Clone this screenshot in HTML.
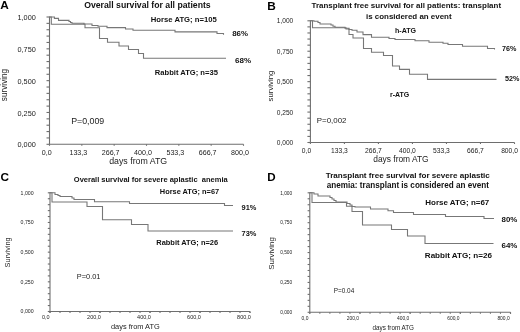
<!DOCTYPE html>
<html><head><meta charset="utf-8"><title>Survival curves</title>
<style>
html,body{margin:0;padding:0;background:#fff;}
body{width:520px;height:332px;overflow:hidden;}
svg{display:block;filter:blur(0.4px);font-family:"Liberation Sans",sans-serif;}
</style></head><body>
<svg width="520" height="332" viewBox="0 0 520 332">
<rect width="520" height="332" fill="#fff"/>
<line x1="49.5" y1="16.5" x2="49.5" y2="144.3" stroke="#6e6e6e" stroke-width="1.1"/>
<line x1="49.5" y1="144.3" x2="243.5" y2="144.3" stroke="#6e6e6e" stroke-width="1.1"/>
<line x1="46.5" y1="144.3" x2="49.5" y2="144.3" stroke="#6e6e6e" stroke-width="1.1"/>
<line x1="46.5" y1="137.94" x2="49.5" y2="137.94" stroke="#6e6e6e" stroke-width="1.1"/>
<line x1="46.5" y1="131.57" x2="49.5" y2="131.57" stroke="#6e6e6e" stroke-width="1.1"/>
<line x1="46.5" y1="125.21" x2="49.5" y2="125.21" stroke="#6e6e6e" stroke-width="1.1"/>
<line x1="46.5" y1="118.84" x2="49.5" y2="118.84" stroke="#6e6e6e" stroke-width="1.1"/>
<line x1="46.5" y1="112.48" x2="49.5" y2="112.48" stroke="#6e6e6e" stroke-width="1.1"/>
<line x1="46.5" y1="106.11" x2="49.5" y2="106.11" stroke="#6e6e6e" stroke-width="1.1"/>
<line x1="46.5" y1="99.75" x2="49.5" y2="99.75" stroke="#6e6e6e" stroke-width="1.1"/>
<line x1="46.5" y1="93.38" x2="49.5" y2="93.38" stroke="#6e6e6e" stroke-width="1.1"/>
<line x1="46.5" y1="87.02" x2="49.5" y2="87.02" stroke="#6e6e6e" stroke-width="1.1"/>
<line x1="46.5" y1="80.65" x2="49.5" y2="80.65" stroke="#6e6e6e" stroke-width="1.1"/>
<line x1="46.5" y1="74.28" x2="49.5" y2="74.28" stroke="#6e6e6e" stroke-width="1.1"/>
<line x1="46.5" y1="67.92" x2="49.5" y2="67.92" stroke="#6e6e6e" stroke-width="1.1"/>
<line x1="46.5" y1="61.56" x2="49.5" y2="61.56" stroke="#6e6e6e" stroke-width="1.1"/>
<line x1="46.5" y1="55.19" x2="49.5" y2="55.19" stroke="#6e6e6e" stroke-width="1.1"/>
<line x1="46.5" y1="48.83" x2="49.5" y2="48.83" stroke="#6e6e6e" stroke-width="1.1"/>
<line x1="46.5" y1="42.46" x2="49.5" y2="42.46" stroke="#6e6e6e" stroke-width="1.1"/>
<line x1="46.5" y1="36.09" x2="49.5" y2="36.09" stroke="#6e6e6e" stroke-width="1.1"/>
<line x1="46.5" y1="29.73" x2="49.5" y2="29.73" stroke="#6e6e6e" stroke-width="1.1"/>
<line x1="46.5" y1="23.36" x2="49.5" y2="23.36" stroke="#6e6e6e" stroke-width="1.1"/>
<line x1="46.5" y1="17.0" x2="49.5" y2="17.0" stroke="#6e6e6e" stroke-width="1.1"/>
<text x="35.8" y="147.4" font-size="7.3" font-weight="normal" text-anchor="end" fill="#222" >0,000</text>
<text x="35.8" y="115.58" font-size="7.3" font-weight="normal" text-anchor="end" fill="#222" >0,250</text>
<text x="35.8" y="83.75" font-size="7.3" font-weight="normal" text-anchor="end" fill="#222" >0,500</text>
<text x="35.8" y="51.93" font-size="7.3" font-weight="normal" text-anchor="end" fill="#222" >0,750</text>
<text x="35.8" y="20.1" font-size="7.3" font-weight="normal" text-anchor="end" fill="#222" >1,000</text>
<line x1="49.5" y1="144.3" x2="49.5" y2="145.8" stroke="#6e6e6e" stroke-width="1.1"/>
<line x1="81.83" y1="144.3" x2="81.83" y2="145.8" stroke="#6e6e6e" stroke-width="1.1"/>
<line x1="114.17" y1="144.3" x2="114.17" y2="145.8" stroke="#6e6e6e" stroke-width="1.1"/>
<line x1="146.5" y1="144.3" x2="146.5" y2="145.8" stroke="#6e6e6e" stroke-width="1.1"/>
<line x1="178.83" y1="144.3" x2="178.83" y2="145.8" stroke="#6e6e6e" stroke-width="1.1"/>
<line x1="211.17" y1="144.3" x2="211.17" y2="145.8" stroke="#6e6e6e" stroke-width="1.1"/>
<line x1="243.5" y1="144.3" x2="243.5" y2="145.8" stroke="#6e6e6e" stroke-width="1.1"/>
<text x="46.75" y="155.4" font-size="7.1" font-weight="normal" text-anchor="middle" fill="#222" >0,0</text>
<text x="78.33" y="155.4" font-size="7.1" font-weight="normal" text-anchor="middle" fill="#222" >133,3</text>
<text x="110.67" y="155.4" font-size="7.1" font-weight="normal" text-anchor="middle" fill="#222" >266,7</text>
<text x="143.0" y="155.4" font-size="7.1" font-weight="normal" text-anchor="middle" fill="#222" >400,0</text>
<text x="175.33" y="155.4" font-size="7.1" font-weight="normal" text-anchor="middle" fill="#222" >533,3</text>
<text x="207.67" y="155.4" font-size="7.1" font-weight="normal" text-anchor="middle" fill="#222" >666,7</text>
<text x="240.0" y="155.4" font-size="7.1" font-weight="normal" text-anchor="middle" fill="#222" >800,0</text>
<text x="0.3" y="9.4" font-size="11.8" font-weight="bold" text-anchor="start" fill="#000" >A</text>
<text x="84.2" y="8" font-size="8.7" font-weight="bold" text-anchor="start" fill="#111" >Overall survival for all patients</text>
<text x="150.8" y="22.3" font-size="7.7" font-weight="bold" text-anchor="start" fill="#111" >Horse ATG; n=105</text>
<text x="232.2" y="36.4" font-size="7.9" font-weight="bold" text-anchor="start" fill="#111" >86%</text>
<text x="154.8" y="74.8" font-size="7.6" font-weight="bold" text-anchor="start" fill="#111" >Rabbit ATG; n=35</text>
<text x="235.0" y="62.9" font-size="8.0" font-weight="bold" text-anchor="start" fill="#111" >68%</text>
<text x="71.2" y="124.3" font-size="8.8" font-weight="normal" text-anchor="start" fill="#222" >P=0,009</text>
<text x="109.2" y="164.3" font-size="8.8" font-weight="normal" text-anchor="start" fill="#222" >days from ATG</text>
<text transform="translate(7.2,85) rotate(-90)" font-size="8.2" text-anchor="middle" fill="#222">surviving</text>
<path d="M49.5,17 H54.4 V18.4 H58.5 V20.4 H69 V21.5 H70.5 V22.5 H72 V23.2 H84 V24 H92 V25.5 H98 V26.2 H107 V27.6 H125.5 V29 H133 V30.3 H175 V31.9 H217 V33.5 H223.5 V34.8" fill="none" stroke="#777" stroke-width="1.1"/>
<path d="M49.5,17 H51.3 V24.3 H85 V27.8 H99.5 V38.5 H107.5 V42.3 H119 V46 H128.5 V49.5 H138.5 V53.5 H143.5 V58.3 H226" fill="none" stroke="#777" stroke-width="1.1"/>
<line x1="310.4" y1="20.3" x2="310.4" y2="142.5" stroke="#6e6e6e" stroke-width="1.1"/>
<line x1="310.4" y1="142.5" x2="514.5" y2="142.5" stroke="#6e6e6e" stroke-width="1.1"/>
<line x1="307.4" y1="142.5" x2="310.4" y2="142.5" stroke="#6e6e6e" stroke-width="1.1"/>
<line x1="307.4" y1="136.41" x2="310.4" y2="136.41" stroke="#6e6e6e" stroke-width="1.1"/>
<line x1="307.4" y1="130.33" x2="310.4" y2="130.33" stroke="#6e6e6e" stroke-width="1.1"/>
<line x1="307.4" y1="124.25" x2="310.4" y2="124.25" stroke="#6e6e6e" stroke-width="1.1"/>
<line x1="307.4" y1="118.16" x2="310.4" y2="118.16" stroke="#6e6e6e" stroke-width="1.1"/>
<line x1="307.4" y1="112.08" x2="310.4" y2="112.08" stroke="#6e6e6e" stroke-width="1.1"/>
<line x1="307.4" y1="105.99" x2="310.4" y2="105.99" stroke="#6e6e6e" stroke-width="1.1"/>
<line x1="307.4" y1="99.91" x2="310.4" y2="99.91" stroke="#6e6e6e" stroke-width="1.1"/>
<line x1="307.4" y1="93.82" x2="310.4" y2="93.82" stroke="#6e6e6e" stroke-width="1.1"/>
<line x1="307.4" y1="87.73" x2="310.4" y2="87.73" stroke="#6e6e6e" stroke-width="1.1"/>
<line x1="307.4" y1="81.65" x2="310.4" y2="81.65" stroke="#6e6e6e" stroke-width="1.1"/>
<line x1="307.4" y1="75.56" x2="310.4" y2="75.56" stroke="#6e6e6e" stroke-width="1.1"/>
<line x1="307.4" y1="69.48" x2="310.4" y2="69.48" stroke="#6e6e6e" stroke-width="1.1"/>
<line x1="307.4" y1="63.39" x2="310.4" y2="63.39" stroke="#6e6e6e" stroke-width="1.1"/>
<line x1="307.4" y1="57.31" x2="310.4" y2="57.31" stroke="#6e6e6e" stroke-width="1.1"/>
<line x1="307.4" y1="51.22" x2="310.4" y2="51.22" stroke="#6e6e6e" stroke-width="1.1"/>
<line x1="307.4" y1="45.14" x2="310.4" y2="45.14" stroke="#6e6e6e" stroke-width="1.1"/>
<line x1="307.4" y1="39.05" x2="310.4" y2="39.05" stroke="#6e6e6e" stroke-width="1.1"/>
<line x1="307.4" y1="32.97" x2="310.4" y2="32.97" stroke="#6e6e6e" stroke-width="1.1"/>
<line x1="307.4" y1="26.88" x2="310.4" y2="26.88" stroke="#6e6e6e" stroke-width="1.1"/>
<line x1="307.4" y1="20.8" x2="310.4" y2="20.8" stroke="#6e6e6e" stroke-width="1.1"/>
<text x="293.3" y="145.0" font-size="6.6" font-weight="normal" text-anchor="end" fill="#222" >0,000</text>
<text x="293.3" y="114.58" font-size="6.6" font-weight="normal" text-anchor="end" fill="#222" >0,250</text>
<text x="293.3" y="84.15" font-size="6.6" font-weight="normal" text-anchor="end" fill="#222" >0,500</text>
<text x="293.3" y="53.72" font-size="6.6" font-weight="normal" text-anchor="end" fill="#222" >0,750</text>
<text x="293.3" y="23.3" font-size="6.6" font-weight="normal" text-anchor="end" fill="#222" >1,000</text>
<line x1="310.4" y1="142.5" x2="310.4" y2="144.0" stroke="#6e6e6e" stroke-width="1.1"/>
<line x1="344.42" y1="142.5" x2="344.42" y2="144.0" stroke="#6e6e6e" stroke-width="1.1"/>
<line x1="378.43" y1="142.5" x2="378.43" y2="144.0" stroke="#6e6e6e" stroke-width="1.1"/>
<line x1="412.45" y1="142.5" x2="412.45" y2="144.0" stroke="#6e6e6e" stroke-width="1.1"/>
<line x1="446.47" y1="142.5" x2="446.47" y2="144.0" stroke="#6e6e6e" stroke-width="1.1"/>
<line x1="480.48" y1="142.5" x2="480.48" y2="144.0" stroke="#6e6e6e" stroke-width="1.1"/>
<line x1="514.5" y1="142.5" x2="514.5" y2="144.0" stroke="#6e6e6e" stroke-width="1.1"/>
<text x="306.5" y="153.1" font-size="6.7" font-weight="normal" text-anchor="middle" fill="#222" >0,0</text>
<text x="339.42" y="153.1" font-size="6.7" font-weight="normal" text-anchor="middle" fill="#222" >133,3</text>
<text x="373.43" y="153.1" font-size="6.7" font-weight="normal" text-anchor="middle" fill="#222" >266,7</text>
<text x="407.45" y="153.1" font-size="6.7" font-weight="normal" text-anchor="middle" fill="#222" >400,0</text>
<text x="441.47" y="153.1" font-size="6.7" font-weight="normal" text-anchor="middle" fill="#222" >533,3</text>
<text x="475.48" y="153.1" font-size="6.7" font-weight="normal" text-anchor="middle" fill="#222" >666,7</text>
<text x="509.5" y="153.1" font-size="6.7" font-weight="normal" text-anchor="middle" fill="#222" >800,0</text>
<text x="267.3" y="9.5" font-size="11.8" font-weight="bold" text-anchor="start" fill="#000" >B</text>
<text x="406.3" y="7.8" font-size="7.97" font-weight="bold" text-anchor="middle" fill="#111" >Transplant free survival for all patients: transplant</text>
<text x="408.8" y="18.5" font-size="7.95" font-weight="bold" text-anchor="middle" fill="#111" >is considered an event</text>
<text x="395" y="32.5" font-size="7.1" font-weight="bold" text-anchor="start" fill="#111" >h-ATG</text>
<text x="390" y="96.8" font-size="7.0" font-weight="bold" text-anchor="start" fill="#111" >r-ATG</text>
<text x="502" y="51.3" font-size="7.2" font-weight="bold" text-anchor="start" fill="#111" >76%</text>
<text x="505" y="81" font-size="7.2" font-weight="bold" text-anchor="start" fill="#111" >52%</text>
<text x="316.8" y="123.3" font-size="7.9" font-weight="normal" text-anchor="start" fill="#222" >P=0,002</text>
<text x="373.3" y="162" font-size="8.4" font-weight="normal" text-anchor="start" fill="#222" >days from ATG</text>
<text transform="translate(273.2,86) rotate(-90)" font-size="7.8" text-anchor="middle" fill="#222">surviving</text>
<path d="M310.4,20.8 H314 V21.3 H318 V22.5 H320 V24 H331 V25 H333 V26.2 H335 V27.2 H345 V28.3 H349 V29.5 H352 V30.2 H357 V32 H363 V34.6 H371.5 V37.3 H389 V38.5 H395 V39.5 H415 V40.8 H429 V42.2 H443 V43.3 H448 V44.5 H462.5 V46.2 H487.5 V48.5 H494.5 V49.5" fill="none" stroke="#777" stroke-width="1.1"/>
<path d="M310.4,20.8 H312.5 V27.8 H346 V29 H349 V34.5 H353 V38 H363.5 V48.5 H371.5 V52.2 H383.5 V55.5 H392.5 V66 H399.5 V69.4 H409.5 V74.2 H427.5 V79.4 H496.5" fill="none" stroke="#777" stroke-width="1.1"/>
<line x1="50" y1="192.3" x2="50" y2="311.5" stroke="#6e6e6e" stroke-width="1.1"/>
<line x1="50" y1="311.5" x2="250" y2="311.5" stroke="#6e6e6e" stroke-width="1.1"/>
<line x1="47.8" y1="311.5" x2="50" y2="311.5" stroke="#6e6e6e" stroke-width="1.1"/>
<line x1="47.8" y1="305.56" x2="50" y2="305.56" stroke="#6e6e6e" stroke-width="1.1"/>
<line x1="47.8" y1="299.63" x2="50" y2="299.63" stroke="#6e6e6e" stroke-width="1.1"/>
<line x1="47.8" y1="293.69" x2="50" y2="293.69" stroke="#6e6e6e" stroke-width="1.1"/>
<line x1="47.8" y1="287.76" x2="50" y2="287.76" stroke="#6e6e6e" stroke-width="1.1"/>
<line x1="47.8" y1="281.82" x2="50" y2="281.82" stroke="#6e6e6e" stroke-width="1.1"/>
<line x1="47.8" y1="275.89" x2="50" y2="275.89" stroke="#6e6e6e" stroke-width="1.1"/>
<line x1="47.8" y1="269.95" x2="50" y2="269.95" stroke="#6e6e6e" stroke-width="1.1"/>
<line x1="47.8" y1="264.02" x2="50" y2="264.02" stroke="#6e6e6e" stroke-width="1.1"/>
<line x1="47.8" y1="258.08" x2="50" y2="258.08" stroke="#6e6e6e" stroke-width="1.1"/>
<line x1="47.8" y1="252.15" x2="50" y2="252.15" stroke="#6e6e6e" stroke-width="1.1"/>
<line x1="47.8" y1="246.22" x2="50" y2="246.22" stroke="#6e6e6e" stroke-width="1.1"/>
<line x1="47.8" y1="240.28" x2="50" y2="240.28" stroke="#6e6e6e" stroke-width="1.1"/>
<line x1="47.8" y1="234.34" x2="50" y2="234.34" stroke="#6e6e6e" stroke-width="1.1"/>
<line x1="47.8" y1="228.41" x2="50" y2="228.41" stroke="#6e6e6e" stroke-width="1.1"/>
<line x1="47.8" y1="222.48" x2="50" y2="222.48" stroke="#6e6e6e" stroke-width="1.1"/>
<line x1="47.8" y1="216.54" x2="50" y2="216.54" stroke="#6e6e6e" stroke-width="1.1"/>
<line x1="47.8" y1="210.61" x2="50" y2="210.61" stroke="#6e6e6e" stroke-width="1.1"/>
<line x1="47.8" y1="204.67" x2="50" y2="204.67" stroke="#6e6e6e" stroke-width="1.1"/>
<line x1="47.8" y1="198.74" x2="50" y2="198.74" stroke="#6e6e6e" stroke-width="1.1"/>
<line x1="47.8" y1="192.8" x2="50" y2="192.8" stroke="#6e6e6e" stroke-width="1.1"/>
<text x="33.6" y="313.4" font-size="5.2" font-weight="normal" text-anchor="end" fill="#222" >0,000</text>
<text x="33.6" y="283.72" font-size="5.2" font-weight="normal" text-anchor="end" fill="#222" >0,250</text>
<text x="33.6" y="254.05" font-size="5.2" font-weight="normal" text-anchor="end" fill="#222" >0,500</text>
<text x="33.6" y="224.38" font-size="5.2" font-weight="normal" text-anchor="end" fill="#222" >0,750</text>
<text x="33.6" y="194.7" font-size="5.2" font-weight="normal" text-anchor="end" fill="#222" >1,000</text>
<line x1="50.0" y1="311.5" x2="50.0" y2="313.0" stroke="#6e6e6e" stroke-width="1.1"/>
<line x1="100.0" y1="311.5" x2="100.0" y2="313.0" stroke="#6e6e6e" stroke-width="1.1"/>
<line x1="150.0" y1="311.5" x2="150.0" y2="313.0" stroke="#6e6e6e" stroke-width="1.1"/>
<line x1="200.0" y1="311.5" x2="200.0" y2="313.0" stroke="#6e6e6e" stroke-width="1.1"/>
<line x1="250.0" y1="311.5" x2="250.0" y2="313.0" stroke="#6e6e6e" stroke-width="1.1"/>
<line x1="50.0" y1="311.5" x2="50.0" y2="313.0" stroke="#6e6e6e" stroke-width="1.1"/>
<line x1="60.0" y1="311.5" x2="60.0" y2="313.0" stroke="#6e6e6e" stroke-width="1.1"/>
<line x1="70.0" y1="311.5" x2="70.0" y2="313.0" stroke="#6e6e6e" stroke-width="1.1"/>
<line x1="80.0" y1="311.5" x2="80.0" y2="313.0" stroke="#6e6e6e" stroke-width="1.1"/>
<line x1="90.0" y1="311.5" x2="90.0" y2="313.0" stroke="#6e6e6e" stroke-width="1.1"/>
<line x1="100.0" y1="311.5" x2="100.0" y2="313.0" stroke="#6e6e6e" stroke-width="1.1"/>
<line x1="110.0" y1="311.5" x2="110.0" y2="313.0" stroke="#6e6e6e" stroke-width="1.1"/>
<line x1="120.0" y1="311.5" x2="120.0" y2="313.0" stroke="#6e6e6e" stroke-width="1.1"/>
<line x1="130.0" y1="311.5" x2="130.0" y2="313.0" stroke="#6e6e6e" stroke-width="1.1"/>
<line x1="140.0" y1="311.5" x2="140.0" y2="313.0" stroke="#6e6e6e" stroke-width="1.1"/>
<line x1="150.0" y1="311.5" x2="150.0" y2="313.0" stroke="#6e6e6e" stroke-width="1.1"/>
<line x1="160.0" y1="311.5" x2="160.0" y2="313.0" stroke="#6e6e6e" stroke-width="1.1"/>
<line x1="170.0" y1="311.5" x2="170.0" y2="313.0" stroke="#6e6e6e" stroke-width="1.1"/>
<line x1="180.0" y1="311.5" x2="180.0" y2="313.0" stroke="#6e6e6e" stroke-width="1.1"/>
<line x1="190.0" y1="311.5" x2="190.0" y2="313.0" stroke="#6e6e6e" stroke-width="1.1"/>
<line x1="200.0" y1="311.5" x2="200.0" y2="313.0" stroke="#6e6e6e" stroke-width="1.1"/>
<line x1="210.0" y1="311.5" x2="210.0" y2="313.0" stroke="#6e6e6e" stroke-width="1.1"/>
<line x1="220.0" y1="311.5" x2="220.0" y2="313.0" stroke="#6e6e6e" stroke-width="1.1"/>
<line x1="230.0" y1="311.5" x2="230.0" y2="313.0" stroke="#6e6e6e" stroke-width="1.1"/>
<line x1="240.0" y1="311.5" x2="240.0" y2="313.0" stroke="#6e6e6e" stroke-width="1.1"/>
<line x1="250.0" y1="311.5" x2="250.0" y2="313.0" stroke="#6e6e6e" stroke-width="1.1"/>
<text x="45.75" y="319.3" font-size="5.5" font-weight="normal" text-anchor="middle" fill="#222" >0,0</text>
<text x="94.0" y="319.3" font-size="5.5" font-weight="normal" text-anchor="middle" fill="#222" >200,0</text>
<text x="144.0" y="319.3" font-size="5.5" font-weight="normal" text-anchor="middle" fill="#222" >400,0</text>
<text x="194.0" y="319.3" font-size="5.5" font-weight="normal" text-anchor="middle" fill="#222" >600,0</text>
<text x="244.0" y="319.3" font-size="5.5" font-weight="normal" text-anchor="middle" fill="#222" >800,0</text>
<text x="0.5" y="181.0" font-size="11.8" font-weight="bold" text-anchor="start" fill="#000" >C</text>
<text x="73.8" y="182.3" font-size="7.5" font-weight="bold" text-anchor="start" fill="#111" >Overall survival for severe aplastic  anemia</text>
<text x="159.8" y="193.5" font-size="7.4" font-weight="bold" text-anchor="start" fill="#111" >Horse ATG; n=67</text>
<text x="241.6" y="209.6" font-size="7.4" font-weight="bold" text-anchor="start" fill="#111" >91%</text>
<text x="156.3" y="245" font-size="7.45" font-weight="bold" text-anchor="start" fill="#111" >Rabbit ATG; n=26</text>
<text x="241.6" y="236.4" font-size="7.4" font-weight="bold" text-anchor="start" fill="#111" >73%</text>
<text x="76.8" y="278.8" font-size="7.4" font-weight="normal" text-anchor="start" fill="#222" >P=0.01</text>
<text x="111" y="329" font-size="7.4" font-weight="normal" text-anchor="start" fill="#222" >days from ATG</text>
<text transform="translate(10.1,252.4) rotate(-90)" font-size="7.3" text-anchor="middle" fill="#222">Surviving</text>
<path d="M50,192.8 H55 V194.5 H58 V195.5 H60 V196.5 H72 V198 H74 V199.5 H94.5 V201.8 H129.5 V203.5 H224.5 V205.5 H233" fill="none" stroke="#777" stroke-width="1.1"/>
<path d="M50,192.8 H52 V202 H87 V206.5 H102.5 V219.8 H131.5 V224.5 H148 V231 H233" fill="none" stroke="#777" stroke-width="1.1"/>
<line x1="309.8" y1="192.3" x2="309.8" y2="312.3" stroke="#6e6e6e" stroke-width="1.1"/>
<line x1="309.8" y1="312.3" x2="510.5" y2="312.3" stroke="#6e6e6e" stroke-width="1.1"/>
<line x1="307.6" y1="312.3" x2="309.8" y2="312.3" stroke="#6e6e6e" stroke-width="1.1"/>
<line x1="307.6" y1="306.32" x2="309.8" y2="306.32" stroke="#6e6e6e" stroke-width="1.1"/>
<line x1="307.6" y1="300.35" x2="309.8" y2="300.35" stroke="#6e6e6e" stroke-width="1.1"/>
<line x1="307.6" y1="294.38" x2="309.8" y2="294.38" stroke="#6e6e6e" stroke-width="1.1"/>
<line x1="307.6" y1="288.4" x2="309.8" y2="288.4" stroke="#6e6e6e" stroke-width="1.1"/>
<line x1="307.6" y1="282.43" x2="309.8" y2="282.43" stroke="#6e6e6e" stroke-width="1.1"/>
<line x1="307.6" y1="276.45" x2="309.8" y2="276.45" stroke="#6e6e6e" stroke-width="1.1"/>
<line x1="307.6" y1="270.48" x2="309.8" y2="270.48" stroke="#6e6e6e" stroke-width="1.1"/>
<line x1="307.6" y1="264.5" x2="309.8" y2="264.5" stroke="#6e6e6e" stroke-width="1.1"/>
<line x1="307.6" y1="258.53" x2="309.8" y2="258.53" stroke="#6e6e6e" stroke-width="1.1"/>
<line x1="307.6" y1="252.55" x2="309.8" y2="252.55" stroke="#6e6e6e" stroke-width="1.1"/>
<line x1="307.6" y1="246.57" x2="309.8" y2="246.57" stroke="#6e6e6e" stroke-width="1.1"/>
<line x1="307.6" y1="240.6" x2="309.8" y2="240.6" stroke="#6e6e6e" stroke-width="1.1"/>
<line x1="307.6" y1="234.62" x2="309.8" y2="234.62" stroke="#6e6e6e" stroke-width="1.1"/>
<line x1="307.6" y1="228.65" x2="309.8" y2="228.65" stroke="#6e6e6e" stroke-width="1.1"/>
<line x1="307.6" y1="222.68" x2="309.8" y2="222.68" stroke="#6e6e6e" stroke-width="1.1"/>
<line x1="307.6" y1="216.7" x2="309.8" y2="216.7" stroke="#6e6e6e" stroke-width="1.1"/>
<line x1="307.6" y1="210.72" x2="309.8" y2="210.72" stroke="#6e6e6e" stroke-width="1.1"/>
<line x1="307.6" y1="204.75" x2="309.8" y2="204.75" stroke="#6e6e6e" stroke-width="1.1"/>
<line x1="307.6" y1="198.78" x2="309.8" y2="198.78" stroke="#6e6e6e" stroke-width="1.1"/>
<line x1="307.6" y1="192.8" x2="309.8" y2="192.8" stroke="#6e6e6e" stroke-width="1.1"/>
<text x="292.2" y="314.1" font-size="4.8" font-weight="normal" text-anchor="end" fill="#222" >0,000</text>
<text x="292.2" y="284.23" font-size="4.8" font-weight="normal" text-anchor="end" fill="#222" >0,250</text>
<text x="292.2" y="254.35" font-size="4.8" font-weight="normal" text-anchor="end" fill="#222" >0,500</text>
<text x="292.2" y="224.48" font-size="4.8" font-weight="normal" text-anchor="end" fill="#222" >0,750</text>
<text x="292.2" y="194.6" font-size="4.8" font-weight="normal" text-anchor="end" fill="#222" >1,000</text>
<line x1="309.8" y1="312.3" x2="309.8" y2="313.8" stroke="#6e6e6e" stroke-width="1.1"/>
<line x1="359.98" y1="312.3" x2="359.98" y2="313.8" stroke="#6e6e6e" stroke-width="1.1"/>
<line x1="410.15" y1="312.3" x2="410.15" y2="313.8" stroke="#6e6e6e" stroke-width="1.1"/>
<line x1="460.32" y1="312.3" x2="460.32" y2="313.8" stroke="#6e6e6e" stroke-width="1.1"/>
<line x1="510.5" y1="312.3" x2="510.5" y2="313.8" stroke="#6e6e6e" stroke-width="1.1"/>
<line x1="309.8" y1="312.3" x2="309.8" y2="313.8" stroke="#6e6e6e" stroke-width="1.1"/>
<line x1="319.84" y1="312.3" x2="319.84" y2="313.8" stroke="#6e6e6e" stroke-width="1.1"/>
<line x1="329.87" y1="312.3" x2="329.87" y2="313.8" stroke="#6e6e6e" stroke-width="1.1"/>
<line x1="339.91" y1="312.3" x2="339.91" y2="313.8" stroke="#6e6e6e" stroke-width="1.1"/>
<line x1="349.94" y1="312.3" x2="349.94" y2="313.8" stroke="#6e6e6e" stroke-width="1.1"/>
<line x1="359.98" y1="312.3" x2="359.98" y2="313.8" stroke="#6e6e6e" stroke-width="1.1"/>
<line x1="370.01" y1="312.3" x2="370.01" y2="313.8" stroke="#6e6e6e" stroke-width="1.1"/>
<line x1="380.05" y1="312.3" x2="380.05" y2="313.8" stroke="#6e6e6e" stroke-width="1.1"/>
<line x1="390.08" y1="312.3" x2="390.08" y2="313.8" stroke="#6e6e6e" stroke-width="1.1"/>
<line x1="400.12" y1="312.3" x2="400.12" y2="313.8" stroke="#6e6e6e" stroke-width="1.1"/>
<line x1="410.15" y1="312.3" x2="410.15" y2="313.8" stroke="#6e6e6e" stroke-width="1.1"/>
<line x1="420.19" y1="312.3" x2="420.19" y2="313.8" stroke="#6e6e6e" stroke-width="1.1"/>
<line x1="430.22" y1="312.3" x2="430.22" y2="313.8" stroke="#6e6e6e" stroke-width="1.1"/>
<line x1="440.25" y1="312.3" x2="440.25" y2="313.8" stroke="#6e6e6e" stroke-width="1.1"/>
<line x1="450.29" y1="312.3" x2="450.29" y2="313.8" stroke="#6e6e6e" stroke-width="1.1"/>
<line x1="460.33" y1="312.3" x2="460.33" y2="313.8" stroke="#6e6e6e" stroke-width="1.1"/>
<line x1="470.36" y1="312.3" x2="470.36" y2="313.8" stroke="#6e6e6e" stroke-width="1.1"/>
<line x1="480.39" y1="312.3" x2="480.39" y2="313.8" stroke="#6e6e6e" stroke-width="1.1"/>
<line x1="490.43" y1="312.3" x2="490.43" y2="313.8" stroke="#6e6e6e" stroke-width="1.1"/>
<line x1="500.47" y1="312.3" x2="500.47" y2="313.8" stroke="#6e6e6e" stroke-width="1.1"/>
<line x1="510.5" y1="312.3" x2="510.5" y2="313.8" stroke="#6e6e6e" stroke-width="1.1"/>
<text x="305.0" y="320" font-size="4.9" font-weight="normal" text-anchor="middle" fill="#222" >0,0</text>
<text x="352.98" y="320" font-size="4.9" font-weight="normal" text-anchor="middle" fill="#222" >200,0</text>
<text x="403.15" y="320" font-size="4.9" font-weight="normal" text-anchor="middle" fill="#222" >400,0</text>
<text x="453.32" y="320" font-size="4.9" font-weight="normal" text-anchor="middle" fill="#222" >600,0</text>
<text x="503.5" y="320" font-size="4.9" font-weight="normal" text-anchor="middle" fill="#222" >800,0</text>
<text x="267.2" y="180.8" font-size="11.6" font-weight="bold" text-anchor="start" fill="#000" >D</text>
<text x="407.75" y="178.2" font-size="8.1" font-weight="bold" text-anchor="middle" fill="#111" >Transplant free survival for severe aplastic</text>
<text x="407.9" y="188" font-size="8.15" font-weight="bold" text-anchor="middle" fill="#111" >anemia: transplant is considered an event</text>
<text x="425.3" y="204.6" font-size="7.97" font-weight="bold" text-anchor="start" fill="#111" >Horse ATG; n=67</text>
<text x="501.5" y="222.0" font-size="7.9" font-weight="bold" text-anchor="start" fill="#111" >80%</text>
<text x="424.8" y="258.1" font-size="8.08" font-weight="bold" text-anchor="start" fill="#111" >Rabbit ATG; n=26</text>
<text x="501.5" y="248.3" font-size="7.9" font-weight="bold" text-anchor="start" fill="#111" >64%</text>
<text x="333.8" y="292.5" font-size="6.4" font-weight="normal" text-anchor="start" fill="#222" >P=0.04</text>
<text x="372.5" y="329.5" font-size="6.3" font-weight="normal" text-anchor="start" fill="#222" >days from ATG</text>
<text transform="translate(273.9,253.5) rotate(-90)" font-size="7.95" text-anchor="middle" fill="#222">Surviving</text>
<path d="M309.8,192.8 H314 V194 H318 V196 H330 V197.5 H332 V199 H334 V200.5 H336 V202 H347 V203.5 H350 V205 H352 V206.5 H355 V207 H370.5 V209 H388 V210.8 H393.5 V212.5 H413.5 V214.5 H445.5 V216.5 H484 V218.5 H494" fill="none" stroke="#777" stroke-width="1.1"/>
<path d="M309.8,192.8 H312 V202.5 H346.5 V206.3 H352 V211.5 H362.5 V225 H391.5 V229.5 H407.5 V236 H425 V243.5 H493.5" fill="none" stroke="#777" stroke-width="1.1"/>
</svg>
</body></html>
